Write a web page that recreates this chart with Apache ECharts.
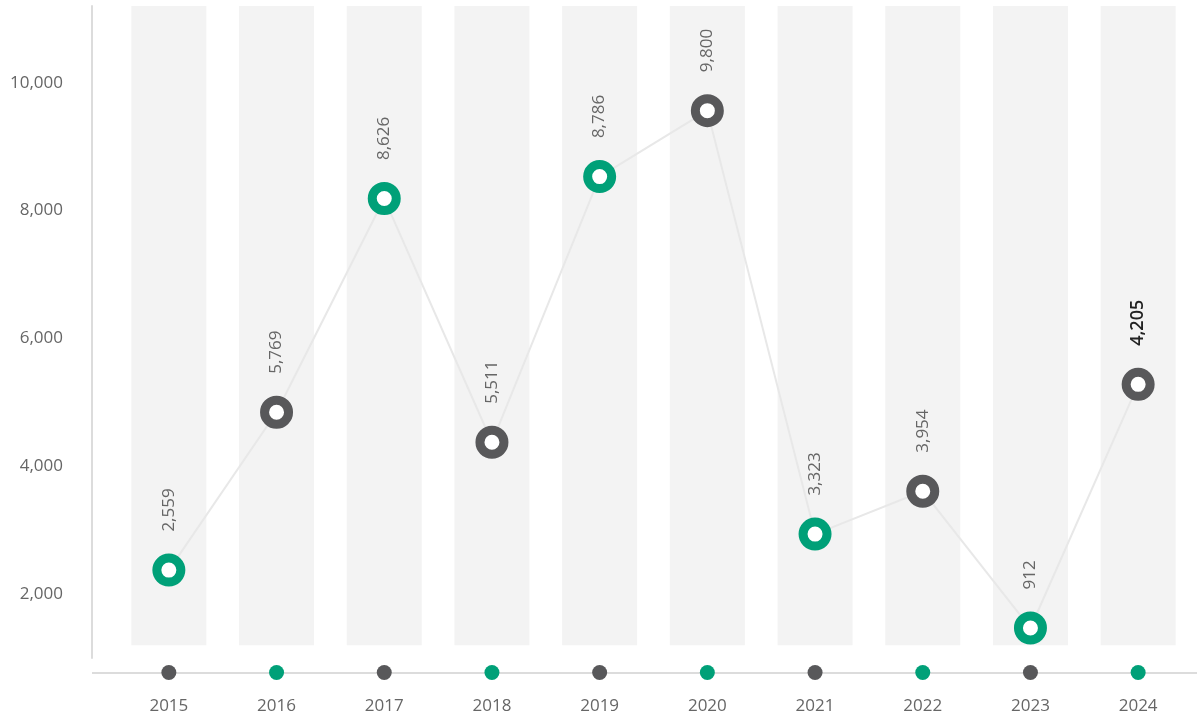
<!DOCTYPE html>
<html>
<head>
<meta charset="utf-8">
<script src="https://cdn.jsdelivr.net/npm/echarts@6/dist/echarts.min.js"></script>
<style>
  html, body { margin: 0; padding: 0; background: #fff; }
  #chart { width: 1200px; height: 720px; }
</style>
</head>
<body>
<div id="chart"></div>
<script>
// data
const years = ['2015', '2016', '2017', '2018', '2019', '2020', '2021', '2022', '2023', '2024'];
const pointValues = [2375, 4844, 8188, 4375, 8531, 9563, 2938, 3609, 1469, 5281];
const labelValues = [2559, 5769, 8626, 5511, 8786, 9800, 3323, 3954, 912, 4205];
const yTicks = [2000, 4000, 6000, 8000, 10000];

const GREEN = '#00a078';
const GREY = '#58585a';
const bandFloor = 1200;
const bandTop = 11200;

const myChart = echarts.init(document.getElementById('chart'));
window.addEventListener('resize', myChart.resize);

const fmt = v => v.toLocaleString('en-US');

const option = {
	backgroundColor: '#fff',
	animation: false,
	textStyle: { fontFamily: 'Open Sans' },
	grid: {
		left: 115,
		right: 8,
		top: 6,
		bottom: 62
	},
	// x axis line runs a bit wider than the plot in the original
	graphic: [{
		type: 'line',
		shape: { x1: 92, y1: 673, x2: 1197, y2: 673 },
		style: { stroke: '#dcdcdc', lineWidth: 2 },
		z: 0
	}],
	xAxis: {
		type: 'category',
		data: years,
		offset: 15,
		axisLine: { show: false },
		axisTick: { show: false },
		axisLabel: {
			margin: -8,
			formatter: (v, i) => '{' + (i % 2 ? 'g' : 'd') + '| }\n{y|' + v + '}',
			rich: {
				d: { width: 15, height: 15, borderRadius: 8, backgroundColor: GREY, lineHeight: 15 },
				g: { width: 15, height: 15, borderRadius: 8, backgroundColor: GREEN, lineHeight: 15 },
				y: { fontSize: 17, color: '#666', lineHeight: 52, fontFamily: 'Open Sans' }
			}
		}
	},
	yAxis: {
		type: 'value',
		min: 1000,
		max: bandTop,
		offset: 23,
		axisLine: { show: true, lineStyle: { color: '#dcdcdc', width: 2 } },
		axisTick: { show: false },
		splitLine: { show: false },
		axisLabel: {
			margin: 29,
			fontSize: 17,
			color: '#666',
			showMinLabel: false,
			showMaxLabel: false,
			formatter: v => yTicks.indexOf(v) >= 0 ? fmt(v) : ''
		}
	},
	series: [
		{
			type: 'bar',
			stack: 'band',
			barWidth: 75,
			silent: true,
			itemStyle: { color: 'rgba(0,0,0,0)' },
			data: years.map(() => bandFloor)
		},
		{
			type: 'bar',
			stack: 'band',
			barWidth: 75,
			silent: true,
			itemStyle: { color: '#f3f3f3' },
			data: years.map(() => bandTop - bandFloor)
		},
		{
			type: 'line',
			data: pointValues.map((v, i) => ({
				value: v,
				itemStyle: { borderColor: i % 2 ? GREY : GREEN },
				label: i === years.length - 1 ? { color: '#222', fontWeight: 600, fontSize: 18 } : undefined
			})),
			symbol: 'circle',
			symbolSize: 24,
			lineStyle: { color: '#e8e8e8', width: 2 },
			itemStyle: { color: '#fff', borderWidth: 9 },
			label: {
				show: true,
				position: 'top',
				distance: 22,
				rotate: 90,
				align: 'left',
				verticalAlign: 'middle',
				fontSize: 17,
				color: '#666',
				formatter: p => fmt(labelValues[p.dataIndex])
			},
			z: 5
		}
	]
};

myChart.setOption(option);
</script>
</body>
</html>
